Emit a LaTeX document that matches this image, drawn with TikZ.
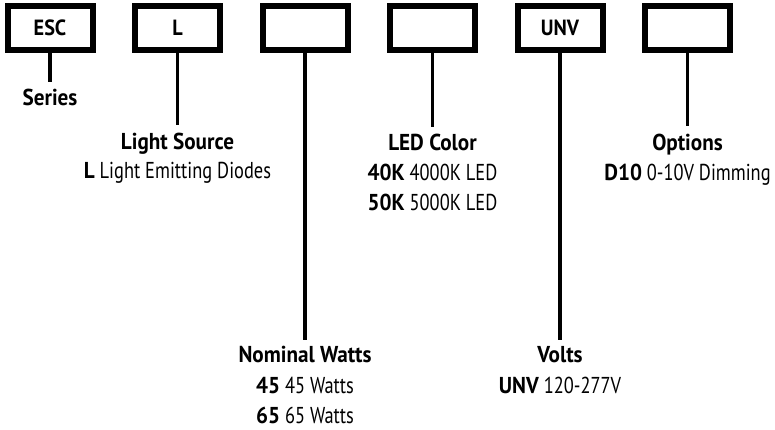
\documentclass[tikz,border=0pt]{standalone}
\usepackage{fontspec}
\setmainfont{PT Sans}[UprightFeatures={FakeStretch=0.80},BoldFeatures={FakeStretch=0.92}]
\begin{document}
\begin{tikzpicture}[x=1pt,y=-1pt,
  codebox/.style={draw,line width=6pt,minimum width=85pt,minimum height=44pt,inner sep=0pt,font=\bfseries\fontsize{22}{26}\selectfont},
  stem/.style={line width=3.5pt},
  ttl/.style={anchor=base,inner sep=0pt,font=\bfseries\fontsize{23}{27}\selectfont},
  itm/.style={anchor=base,inner sep=0pt,font=\fontsize{23}{27}\selectfont}]
\useasboundingbox (0,0) rectangle (775,429);
% code boxes
\node[codebox] (b1) at (50,28) {ESC};
\node[codebox] (b2) at (177.5,28) {L};
\node[codebox] (b3) at (305,28) {};
\node[codebox] (b4) at (432.5,28) {};
\node[codebox] (b5) at (560,28) {UNV};
\node[codebox] (b6) at (687.5,28) {};
% stem ends
\coordinate (e1) at (50,82);
\coordinate (e2) at (177.5,125);
\coordinate (e3) at (305,340);
\coordinate (e4) at (432.5,127);
\coordinate (e5) at (560,340);
\coordinate (e6) at (687.5,126);
\foreach \i in {1,...,6} \draw[stem] (b\i.south) -- (e\i);
% labels
\node[ttl] (t1) at (50,105) {Series};
\node[ttl] (t2) at (177.5,149) {Light Source};
\node[itm] (t2a) at (177.5,178) {\textbf{L} Light Emitting Diodes};
\node[ttl] (t3) at (305,362) {Nominal Watts};
\node[itm] (t3a) at (305,393) {\textbf{45} 45 Watts};
\node[itm] (t3b) at (305,423) {\textbf{65} 65 Watts};
\node[ttl] (t4) at (432.5,150) {LED Color};
\node[itm] (t4a) at (432.5,180) {\textbf{40K} 4000K LED};
\node[itm] (t4b) at (432.5,210) {\textbf{50K} 5000K LED};
\node[ttl] (t5) at (560,362) {Volts};
\node[itm] (t5a) at (560,393) {\textbf{UNV} 120-277V};
\node[ttl] (t6) at (687.5,150) {Options};
\node[itm] (t6a) at (687.5,180) {\textbf{D10} 0-10V Dimming};
\end{tikzpicture}
\end{document}
